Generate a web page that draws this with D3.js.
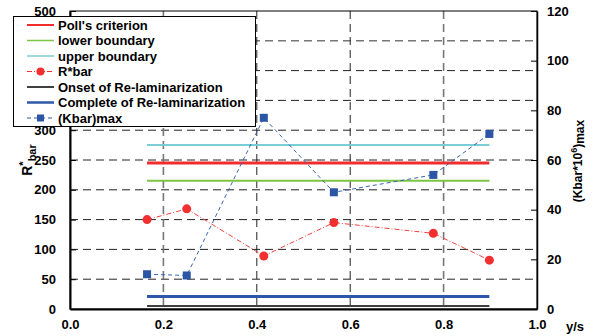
<!DOCTYPE html>
<html>
<head>
<meta charset="utf-8">
<script src="https://cdn.jsdelivr.net/npm/d3@7"></script>
<style>
  body { margin: 0; background: #fff; }
  text { font-family: "Liberation Sans", Arial, sans-serif; font-weight: bold; fill: #000; }
</style>
</head>
<body>
<div id="chart"></div>
<script>
// data
var ysValues = [0.165, 0.25, 0.415, 0.565, 0.778, 0.898];
var rStarBar = [150, 168, 89, 145, 127, 82];
var kbarMax = [14, 13.5, 77, 47, 54, 70.5];

var refNames = ["Poll's criterion", "lower boundary", "upper boundary", "Onset of Re-laminarization", "Complete of Re-laminarization"];
var refValues = [245, 215, 275, 5, 21];

var xTicks = [0, 0.2, 0.4, 0.6, 0.8, 1.0];
var yTicks = [0, 50, 100, 150, 200, 250, 300, 350, 400, 450, 500];
var y2Ticks = [0, 20, 40, 60, 80, 100, 120];

var legendNames = ["Poll's criterion", "lower boundary", "upper boundary", "R*bar", "Onset of Re-laminarization", "Complete of Re-laminarization", "(Kbar)max"];

// sizes
var svgWidth = 597;
var svgHeight = 336;
var margin = { top: 11, right: 60, bottom: 27, left: 70 };
var chartWidth = svgWidth - margin.left - margin.right;
var chartHeight = svgHeight - margin.top - margin.bottom;

var refColors = ["#f22c2c", "#7cc443", "#79cdd6", "#000000", "#2d57a8"];
var refWidths = [3, 2, 2, 1.5, 3];

var svg = d3.select("#chart").append("svg")
    .attr("width", svgWidth)
    .attr("height", svgHeight);

var chartGroup = svg.append("g")
    .attr("transform", `translate(${margin.left}, ${margin.top})`);

var xScale = d3.scaleLinear().domain([0, 1]).range([0, chartWidth]);
var yScale = d3.scaleLinear().domain([0, 500]).range([chartHeight, 0]);
var y2Scale = d3.scaleLinear().domain([0, 120]).range([chartHeight, 0]);

// grid lines
chartGroup.selectAll(".hgrid")
    .data(yTicks.slice(1, -1))
    .enter()
    .append("line")
    .attr("x1", 0)
    .attr("x2", chartWidth)
    .attr("y1", d => yScale(d))
    .attr("y2", d => yScale(d))
    .attr("stroke", d => d === 450 ? "#777" : "#222")
    .attr("stroke-width", d => d === 450 ? 1.6 : 1)
    .attr("stroke-dasharray", "8,5");

chartGroup.selectAll(".vgrid")
    .data(xTicks.slice(1, -1))
    .enter()
    .append("line")
    .attr("x1", d => xScale(d))
    .attr("x2", d => xScale(d))
    .attr("y1", 0)
    .attr("y2", chartHeight)
    .attr("stroke", d => (d === 0.2 || d === 0.8) ? "#777" : "#222")
    .attr("stroke-width", d => (d === 0.2 || d === 0.8) ? 1.6 : 1)
    .attr("stroke-dasharray", "8,5");

// frame
chartGroup.append("rect")
    .attr("width", chartWidth)
    .attr("height", chartHeight)
    .attr("fill", "none")
    .attr("stroke", "#000")
    .attr("stroke-width", 1);

// axes
var leftAxis = chartGroup.append("g")
    .call(d3.axisLeft(yScale).tickValues(yTicks).tickSizeInner(-6).tickSizeOuter(0).tickPadding(14));
var rightAxis = chartGroup.append("g")
    .attr("transform", `translate(${chartWidth}, 0)`)
    .call(d3.axisRight(y2Scale).tickValues(y2Ticks).tickSizeInner(-6).tickSizeOuter(0).tickPadding(10));
var bottomAxis = chartGroup.append("g")
    .attr("transform", `translate(0, ${chartHeight})`)
    .call(d3.axisBottom(xScale).tickValues(xTicks).tickFormat(d3.format(".1f")).tickSize(0).tickPadding(11));

[leftAxis, rightAxis, bottomAxis].forEach(function (ax) {
    ax.selectAll("text")
        .attr("font-size", "13px")
        .attr("font-family", "Liberation Sans, Arial, sans-serif")
        .attr("font-weight", "bold")
        .attr("fill", "#000");
    ax.selectAll("line").attr("stroke", "#000");
    ax.select(".domain").attr("stroke", "#000").attr("stroke-width", 2);
});
rightAxis.select(".domain").attr("stroke-width", 1.5);

// reference lines
chartGroup.selectAll(".ref")
    .data(refValues)
    .enter()
    .append("line")
    .attr("x1", xScale(ysValues[0]))
    .attr("x2", xScale(ysValues[ysValues.length - 1]))
    .attr("y1", d => yScale(d))
    .attr("y2", d => yScale(d))
    .attr("stroke", (d, i) => refColors[i])
    .attr("stroke-width", (d, i) => refWidths[i]);

// R*bar series
var rLine = d3.line()
    .x((d, i) => xScale(ysValues[i]))
    .y(d => yScale(d));

chartGroup.append("path")
    .datum(rStarBar)
    .attr("d", rLine)
    .attr("fill", "none")
    .attr("stroke", "#f04040")
    .attr("stroke-width", 1)
    .attr("stroke-dasharray", "5,2,1,2");

chartGroup.selectAll(".rdot")
    .data(rStarBar)
    .enter()
    .append("circle")
    .attr("cx", (d, i) => xScale(ysValues[i]))
    .attr("cy", d => yScale(d))
    .attr("r", 4.5)
    .attr("fill", "#f23030");

// (Kbar)max series on right axis
var kLine = d3.line()
    .x((d, i) => xScale(ysValues[i]))
    .y(d => y2Scale(d));

chartGroup.append("path")
    .datum(kbarMax)
    .attr("d", kLine)
    .attr("fill", "none")
    .attr("stroke", "#3a64b4")
    .attr("stroke-width", 1)
    .attr("stroke-dasharray", "4,3");

chartGroup.selectAll(".ksq")
    .data(kbarMax)
    .enter()
    .append("rect")
    .attr("x", (d, i) => xScale(ysValues[i]) - 4)
    .attr("y", d => y2Scale(d) - 4)
    .attr("width", 8)
    .attr("height", 8)
    .attr("fill", "#2b55a5");

// axis titles
svg.append("text")
    .attr("x", 566)
    .attr("y", 331)
    .attr("font-size", "13px")
    .text("y/s");

var leftTitle = svg.append("text")
    .attr("transform", "translate(32, 160) rotate(-90)")
    .attr("text-anchor", "middle")
    .attr("font-size", "14px");
leftTitle.append("tspan").text("R");
leftTitle.append("tspan").attr("font-size", "11px").attr("dy", "-5").text("*");
leftTitle.append("tspan").attr("font-size", "11px").attr("dy", "9").text("bar");

var rightTitle = svg.append("text")
    .attr("transform", "translate(582, 161) rotate(-90)")
    .attr("text-anchor", "middle")
    .attr("font-size", "12px");
rightTitle.append("tspan").text("(Kbar*10");
rightTitle.append("tspan").attr("font-size", "9px").attr("dy", "-5").text("6");
rightTitle.append("tspan").attr("dy", "5").text(")");
rightTitle.append("tspan").attr("dy", "2").text("max");

// legend
var legend = svg.append("g");
legend.append("rect")
    .attr("x", 13.5)
    .attr("y", 16.5)
    .attr("width", 242)
    .attr("height", 110)
    .attr("fill", "#fff")
    .attr("stroke", "#000")
    .attr("stroke-width", 1);

var legendColors = [refColors[0], refColors[1], refColors[2], "#f23030", refColors[3], refColors[4], "#2b55a5"];
var legendWidths = [2, 1.5, 1.5, 1, 1.5, 2.5, 1];
var legendDash = [null, null, null, "5,2,1,2", null, null, "4,3"];

var rows = legend.selectAll(".row")
    .data(legendNames)
    .enter()
    .append("g")
    .attr("transform", (d, i) => `translate(0, ${25 + i * 15.5})`);

rows.append("line")
    .attr("x1", 27)
    .attr("x2", 54)
    .attr("stroke", (d, i) => legendColors[i])
    .attr("stroke-width", (d, i) => legendWidths[i])
    .attr("stroke-dasharray", (d, i) => legendDash[i]);

rows.filter((d, i) => i === 3)
    .append("circle")
    .attr("cx", 40.5)
    .attr("r", 4)
    .attr("fill", "#f23030");

rows.filter((d, i) => i === 6)
    .append("rect")
    .attr("x", 37)
    .attr("y", -3.5)
    .attr("width", 7)
    .attr("height", 7)
    .attr("fill", "#2b55a5");

rows.append("text")
    .attr("x", 58)
    .attr("dy", "0.35em")
    .attr("font-size", "13px")
    .text(d => d);
</script>
</body>
</html>
